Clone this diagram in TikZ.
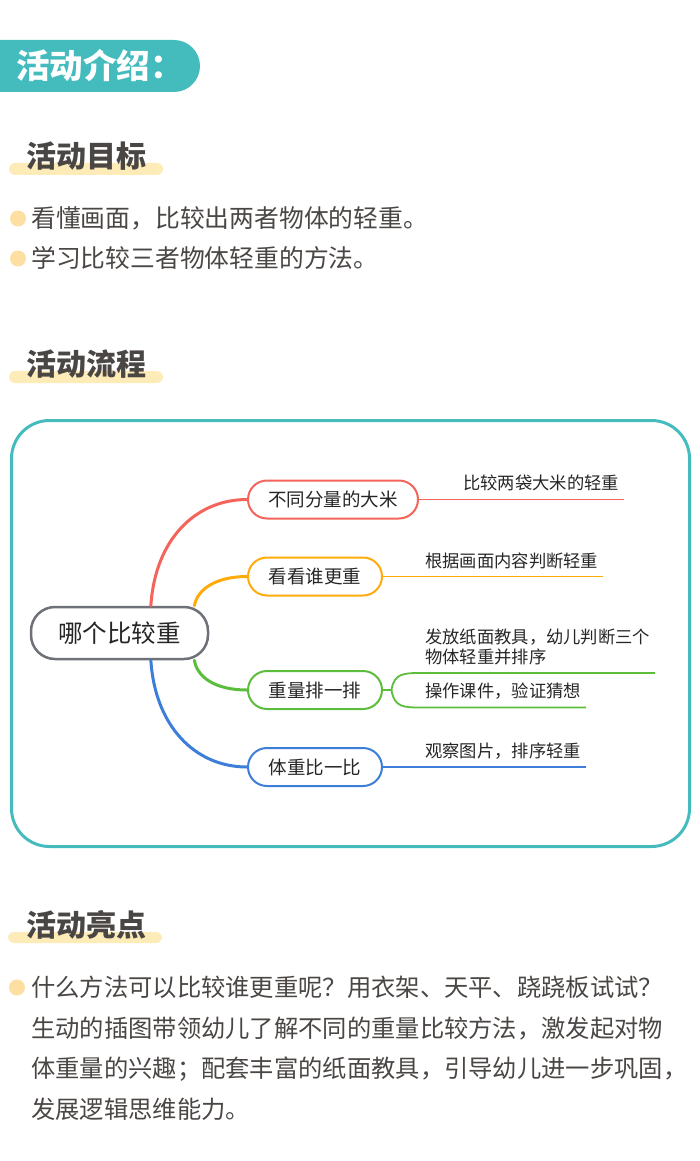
\documentclass[tikz,border=0pt]{standalone}
\usepackage{fontspec}
\newfontfamily\cjk{Noto Sans CJK SC}
\definecolor{brandteal}{HTML}{44BBBD}
\definecolor{barbeige}{HTML}{FDEBB8}
\definecolor{dotbeige}{HTML}{FDDFA1}
\definecolor{inkgray}{HTML}{4A4644}
\definecolor{hubgray}{HTML}{6E7178}
\definecolor{redbr}{HTML}{F5645A}
\definecolor{orangebr}{HTML}{FFAB0B}
\definecolor{greenbr}{HTML}{5CBD3D}
\definecolor{bluebr}{HTML}{3C7ED8}

\begin{document}
\begin{tikzpicture}[
	x=1pt, y=-1pt,
	heading/.style={anchor=west, inner sep=0, text=inkgray, font=\cjk\bfseries\fontsize{30}{30}\selectfont},
	body/.style={anchor=west, inner sep=0, text=inkgray, font=\cjk\fontsize{24.8}{24.8}\selectfont},
	hub/.style={draw=hubgray, line width=2.5, fill=white, rounded corners=24, minimum width=177, minimum height=52, inner sep=0, text=black!85, font=\cjk\fontsize{24.5}{24.5}\selectfont},
	branch/.style={draw=#1, line width=2, fill=white, rounded corners=19, minimum height=38, inner sep=0, text=black!85, font=\cjk\fontsize{18.5}{18.5}\selectfont},
	leaf/.style={anchor=west, inner sep=0, text=black!85, font=\cjk\fontsize{17.3}{20}\selectfont},
	limb/.style={draw=#1, line width=3, line cap=round},
	twig/.style={draw=#1, line width=1.8},
	]
	\useasboundingbox (0,0) rectangle (700,1161);

	% banner
	\fill[brandteal] (0,40) -- (174,40) arc[start angle=-90, end angle=90, radius=26] -- (0,92) -- cycle;
	\node[anchor=west, inner sep=0, text=white, font=\cjk\bfseries\fontsize{33.5}{33.5}\selectfont] (title) at (16,66) {活动介绍：};

	% goals
	\fill[barbeige, rounded corners=6] (9,163) rectangle (163,175);
	\node[heading] (goals) at (26,156) {活动目标};
	\fill[dotbeige] (18,218.5) circle[radius=8pt];
	\fill[dotbeige] (18,258.5) circle[radius=8pt];
	\node[body] (goal1) at (31,218) {看懂画面，比较出两者物体的轻重。};
	\node[body] (goal2) at (31,258) {学习比较三者物体轻重的方法。};

	% flow
	\fill[barbeige, rounded corners=6] (9,371) rectangle (163,383);
	\node[heading] (flow) at (26,364) {活动流程};
	\draw[brandteal, line width=3, rounded corners=38] (11.5,420.5) rectangle (689.5,846.5);

	\node[hub] (hub) at (119.5,633) {哪个比较重};
	\node[branch=redbr, minimum width=170] (rice) at (333,499.5) {不同分量的大米};
	\node[branch=orangebr, minimum width=134] (look) at (315,576.5) {看看谁更重};
	\node[branch=greenbr, minimum width=134] (sort) at (315,690) {重量排一排};
	\node[branch=bluebr, minimum width=134] (body) at (315,767) {体重比一比};

	\draw[limb=redbr] (hub.41) .. controls (155,540) and (195,499.5) .. (rice.west);
	\draw[limb=orangebr] (hub.20) .. controls (197,590) and (215,576.5) .. (look.west);
	\draw[limb=greenbr] (hub.-20) .. controls (197,677) and (215,690) .. (sort.west);
	\draw[limb=bluebr] (hub.-41) .. controls (155,726) and (195,767) .. (body.west);

	% leaves
	\coordinate (riceEnd) at (624,499.5);
	\coordinate (lookEnd) at (603,576.5);
	\coordinate (fork) at (391.5,690);
	\coordinate (sortEndA) at (655,673);
	\coordinate (sortEndB) at (586,707.5);
	\coordinate (bodyEnd) at (586,767);

	\draw[twig=redbr] (rice.east) -- (riceEnd);
	\draw[twig=orangebr] (look.east) -- (lookEnd);
	\draw[twig=greenbr] (sort.east) -- (fork);
	\draw[twig=greenbr] (fork) .. controls (394,673) and (404,673) .. (422,673) -- (sortEndA);
	\draw[twig=greenbr] (fork) .. controls (394,707.5) and (404,707.5) .. (422,707.5) -- (sortEndB);
	\draw[twig=bluebr] (body.east) -- (bodyEnd);

	\node[leaf] (riceLeaf) at (463,483) {比较两袋大米的轻重};
	\node[leaf] (lookLeaf) at (425,560.5) {根据画面内容判断轻重};
	\node[leaf, anchor=north west, align=left] (sortLeafA) at (425,628.4) {发放纸面教具，幼儿判断三个\\物体轻重并排序};
	\node[leaf] (sortLeafB) at (425,691.5) {操作课件，验证猜想};
	\node[leaf] (bodyLeaf) at (425,751.5) {观察图片，排序轻重};

	% highlights
	\fill[barbeige, rounded corners=6] (8,932) rectangle (162,943);
	\node[heading] (points) at (26,925) {活动亮点};
	\fill[dotbeige] (17,987.5) circle[radius=8pt];
	\node[body, anchor=north west, align=left, font=\cjk\fontsize{24.3}{40.5}\selectfont] (pointText) at (31,976) {什么方法可以比较谁更重呢？用衣架、天平、跷跷板试试？\\生动的插图带领幼儿了解不同的重量比较方法，激发起对物\\体重量的兴趣；配套丰富的纸面教具，引导幼儿进一步巩固，\\发展逻辑思维能力。};
\end{tikzpicture}
\end{document}
